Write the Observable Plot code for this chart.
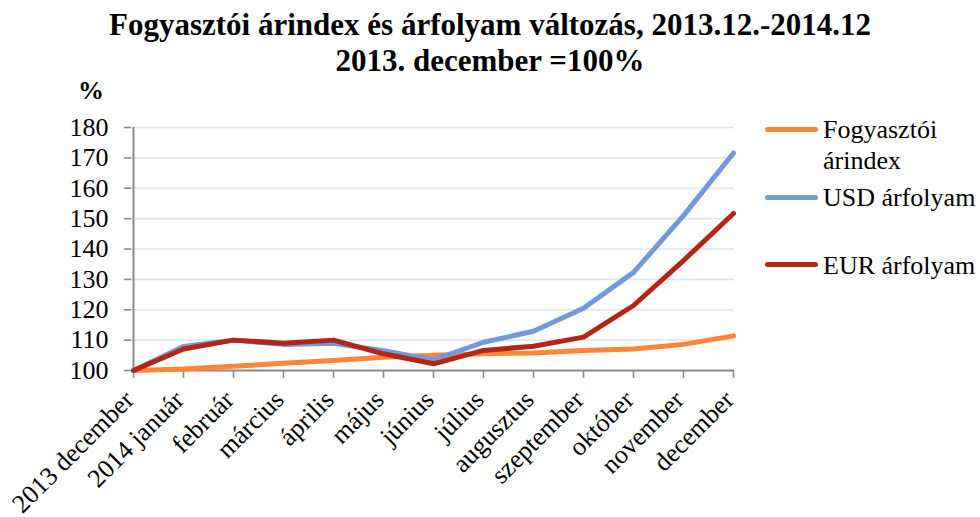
<!DOCTYPE html>
<html>
<head>
<meta charset="utf-8">
<script src="https://cdn.jsdelivr.net/npm/d3@7"></script>
<script src="https://cdn.jsdelivr.net/npm/@observablehq/plot@0.6"></script>
<style>
  body { margin: 0; background: #fff; }
  #wrap { position: relative; width: 980px; height: 517px; font-family: "Liberation Serif", "Times New Roman", serif; color: #000; overflow: hidden; }
  #chart { position: absolute; left: 0; top: 0; }
  .title { position: absolute; left: 0; width: 980px; text-align: center; font-weight: bold; font-size: 31px; line-height: 36px; white-space: nowrap; }
  .pct { position: absolute; left: 78px; top: 75px; font-weight: bold; font-size: 26px; line-height: 31px; }
  .leg { position: absolute; left: 765px; font-size: 26px; line-height: 31px; }
  .leg .sw { position: absolute; left: 0; width: 53px; height: 5px; border-radius: 3px; }
  .leg .tx { position: absolute; left: 58px; white-space: nowrap; }
</style>
</head>
<body>
<div id="wrap">
  <div id="chart"></div>
  <div class="title" style="top:7px">Fogyasztói árindex és árfolyam változás, 2013.12.-2014.12</div>
  <div class="title" style="top:43px">2013. december =100%</div>
  <div class="pct">%</div>
  <div id="legend"></div>
</div>
<script>
const months = ["2013 december","2014 január","február","március","április","május","június","július","augusztus","szeptember","október","november","december"];
const fogyasztoi = [100, 100.5, 101.4, 102.4, 103.3, 104.4, 105.0, 105.5, 105.8, 106.6, 107.1, 108.6, 111.4];
const usd = [100, 107.9, 110.0, 108.6, 109.0, 106.5, 103.5, 109.3, 112.9, 120.5, 132.3, 151.0, 171.6];
const eur = [100, 107.1, 110.0, 109.0, 110.0, 105.5, 102.2, 106.6, 108.0, 111.0, 121.4, 136.2, 151.7];
const yTicks = [100, 110, 120, 130, 140, 150, 160, 170, 180];
const seriesNames = ["Fogyasztói árindex", "USD árfolyam", "EUR árfolyam"];
const seriesColors = ["#fd8535", "#729ad9", "#b32616"];

const seriesValues = [fogyasztoi, usd, eur];
const data = seriesNames.flatMap((name, s) => seriesValues[s].map((v, i) => ({series: name, i, v})));
const xIdx = d3.range(months.length);

const plot = Plot.plot({
  width: 980,
  height: 517,
  marginLeft: 131,
  marginRight: 246,
  marginTop: 127,
  marginBottom: 147,
  style: {fontFamily: "'Liberation Serif', 'Times New Roman', serif", fontSize: "26px", color: "#000", background: "transparent"},
  x: {type: "point", domain: xIdx, padding: 0},
  y: {domain: [100, 180]},
  color: {domain: seriesNames, range: seriesColors},
  marks: [
    Plot.gridY(yTicks, {stroke: "#dde6f2", strokeOpacity: 1, strokeWidth: 1.6}),
    Plot.axisY(yTicks, {tickSize: 7, tickPadding: 16, stroke: "#8a8a8a", strokeWidth: 1.6, fill: "#000", fontSize: 26, fontFamily: "'Liberation Serif', serif", label: null}),
    Plot.axisX(xIdx, {tickSize: 8, tickFormat: () => "", stroke: "#8a8a8a", strokeWidth: 1.6, label: null}),
    Plot.axisX(xIdx, {tickSize: 0, tickPadding: 25, dx: -4, tickRotate: -45, tickFormat: i => months[i], fill: "#000", fontSize: 26, fontFamily: "'Liberation Serif', serif", label: null}),
    Plot.ruleX([0], {y1: 100, y2: 180, stroke: "#8a8a8a", strokeWidth: 2}),
    Plot.ruleY([100], {stroke: "#8a8a8a", strokeWidth: 2}),
    Plot.line(data, {x: "i", y: "v", z: "series", stroke: "series", strokeWidth: 5, strokeLinejoin: "round", strokeLinecap: "round"})
  ]
});
document.getElementById("chart").appendChild(plot);

const legendTops = [{sw: 127, tx: 114}, {sw: 195, tx: 182}, {sw: 262, tx: 250}];
const legendLabels = [["Fogyasztói", "árindex"], ["USD árfolyam"], ["EUR árfolyam"]];
const leg = document.getElementById("legend");
seriesNames.forEach((name, k) => {
  const item = document.createElement("div");
  item.className = "leg";
  item.style.top = "0px";
  const sw = document.createElement("div");
  sw.className = "sw";
  sw.style.background = seriesColors[k];
  sw.style.top = legendTops[k].sw + "px";
  const tx = document.createElement("div");
  tx.className = "tx";
  tx.style.top = legendTops[k].tx + "px";
  tx.innerHTML = legendLabels[k].join("<br>");
  item.appendChild(sw);
  item.appendChild(tx);
  leg.appendChild(item);
});
</script>
</body>
</html>
